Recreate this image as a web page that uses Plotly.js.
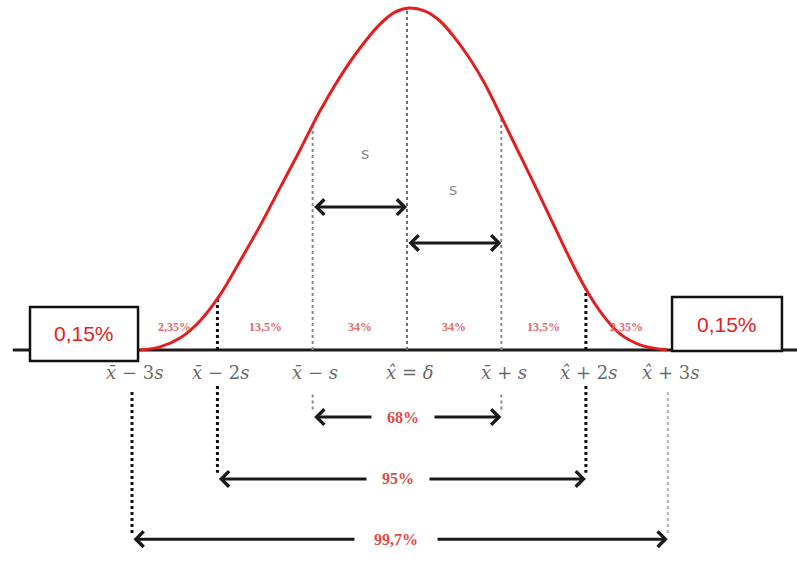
<!DOCTYPE html>
<html>
<head>
<meta charset="utf-8">
<script src="https://cdn.plot.ly/plotly-3.0.1.min.js"></script>
<style>html,body{margin:0;padding:0;background:#fff;}#chart{width:797px;height:580px;}</style>
</head>
<body>
<div id="chart"></div>
<script>
// ---- data (x in units of s from the mean, y = relative height) ----
const curveX = [-3.000,-2.775,-2.551,-2.326,-2.101,-1.876,-1.652,-1.427,-1.202,-0.978,-0.753,-0.528,-0.303,-0.135,0.022,0.202,0.371,0.539,0.708,0.876,1.067,1.270,1.494,1.719,1.888,2.056,2.225,2.393,2.618,2.921];
const curveY = [0.000,0.009,0.035,0.085,0.161,0.260,0.363,0.474,0.585,0.699,0.798,0.883,0.953,0.988,1.000,0.991,0.962,0.912,0.851,0.778,0.678,0.570,0.450,0.327,0.237,0.158,0.094,0.047,0.015,0.000];
const markPos = [-3.09,-2.13,-1.06,0,1.06,2.01,2.93];
const markLabels = ['<i>x̄</i> − 3<i>s</i>','<i>x̄</i> − 2<i>s</i>','<i>x̄</i> − <i>s</i>','<i>x̂</i> = <i>δ</i>','<i>x̄</i> + <i>s</i>','<i>x̂</i> + 2<i>s</i>','<i>x̂</i> + 3<i>s</i>'];
const bandLabels = ['2,35%','13,5%','34%','34%','13,5%','2,35%'];
const tailLabels = ['0,15%','0,15%'];
const spanLabels = ['68%','95%','99,7%'];
const spanPairs = [[2,4],[1,5],[0,6]];
const sLabels = ['s','s'];

function curveAt(x){
  for(let i=0;i<curveX.length-1;i++){
    if(x>=curveX[i] && x<=curveX[i+1]){
      const t=(x-curveX[i])/(curveX[i+1]-curveX[i]);
      return curveY[i]+t*(curveY[i+1]-curveY[i]);
    }
  }
  return 0;
}

const shapes = [];
const annotations = [];

// baseline
shapes.push({type:'line',xref:'x',yref:'y',x0:-4.43,x1:4.40,y0:0,y1:0,layer:'below',line:{color:'#1c1c1c',width:3}});

// dotted verticals above baseline (curve to baseline)
const upStyle = {1:{color:'#111',width:3},2:{color:'#8a8a8a',width:2},3:{color:'#6e6e6e',width:2},4:{color:'#8a8a8a',width:2},5:{color:'#111',width:3}};
[1,2,3,4,5].forEach(i=>{
  shapes.push({type:'line',xref:'x',yref:'y',x0:markPos[i],x1:markPos[i],y0:0,y1:curveAt(markPos[i]),layer:'below',line:Object.assign({dash:'dot'},upStyle[i])});
});

// span arrows below baseline
const spanLevels = [-0.196,-0.377,-0.553];
const spanTops = [-0.130,-0.105,-0.123];
const spanLine = [
  [{color:'#8a8a8a',width:2},{color:'#8a8a8a',width:2}],
  [{color:'#111',width:3},{color:'#111',width:3}],
  [{color:'#111',width:3},{color:'#b0b0b0',width:2}]
];
const gapWidth = [60,60,80];
spanPairs.forEach((p,k)=>{
  p.forEach((idx,side)=>{
    shapes.push({type:'line',xref:'x',yref:'y',x0:markPos[idx],x1:markPos[idx],y0:spanTops[k],y1:spanLevels[k]+0.018,layer:'below',line:Object.assign({dash:'dot'},spanLine[k][side])});
  });
  annotations.push({xref:'x',yref:'y',axref:'x',ayref:'y',x:markPos[p[1]],y:spanLevels[k],ax:markPos[p[0]],ay:spanLevels[k],
    text:'',showarrow:true,arrowhead:4,arrowside:'end+start',arrowsize:1,arrowwidth:3,arrowcolor:'#1a1a1a',standoff:0,startstandoff:0});
});
spanPairs.forEach((p,k)=>{
  annotations.push({xref:'x',yref:'y',x:(markPos[p[0]]+markPos[p[1]])/2-0.04,y:spanLevels[k],text:'<b>'+spanLabels[k]+'</b>',showarrow:false,
    bgcolor:'#ffffff',width:gapWidth[k],font:{family:'Liberation Serif',size:16,color:'#e14a4a'}});
});

// s arrows inside the curve
const sLevels = [0.418,0.313];
[[2,3],[3,4]].forEach((p,k)=>{
  annotations.push({xref:'x',yref:'y',axref:'x',ayref:'y',x:markPos[p[1]],y:sLevels[k],ax:markPos[p[0]],ay:sLevels[k],
    text:'',showarrow:true,arrowhead:4,arrowside:'end+start',arrowsize:1,arrowwidth:3,arrowcolor:'#1a1a1a',standoff:0,startstandoff:0});
});
annotations.push({xref:'x',yref:'y',x:-0.47,y:0.576,text:sLabels[0],showarrow:false,font:{family:'DejaVu Sans',size:16,color:'#8c8c8c'}});
annotations.push({xref:'x',yref:'y',x:0.52,y:0.468,text:sLabels[1],showarrow:false,font:{family:'DejaVu Sans',size:16,color:'#8c8c8c'}});

// band labels
bandLabels.forEach((t,i)=>{
  annotations.push({xref:'x',yref:'y',x:(markPos[i]+markPos[i+1])/2,y:0.067,text:'<b>'+t+'</b>',showarrow:false,
    font:{family:'Liberation Serif',size:12,color:'#e36a6a'}});
});

// mark labels on the axis
markLabels.forEach((t,i)=>{
  annotations.push({xref:'x',yref:'y',x:markPos[i]+0.03,y:-0.066,text:t,showarrow:false,
    font:{family:'DejaVu Serif',size:18,color:'#6a6a6a'}});
});

// tail boxes
const boxes = [[-4.236,-3.022,-0.032,0.126],[2.978,4.213,-0.003,0.155]];
boxes.forEach((b,i)=>{
  shapes.push({type:'rect',xref:'x',yref:'y',x0:b[0],x1:b[1],y0:b[2],y1:b[3],layer:'above',fillcolor:'#ffffff',line:{color:'#111',width:2.5}});
  annotations.push({xref:'x',yref:'y',x:(b[0]+b[1])/2,y:(b[2]+b[3])/2,text:tailLabels[i],showarrow:false,
    font:{family:'Liberation Sans',size:21,color:'#e32222'}});
});

const trace = {x:curveX,y:curveY,mode:'lines',line:{color:'#e41e1e',width:3,shape:'spline',smoothing:1},hoverinfo:'skip'};

Plotly.newPlot('chart',[trace],{
  width:797,height:580,margin:{l:0,r:0,t:0,b:0},
  paper_bgcolor:'#ffffff',plot_bgcolor:'#ffffff',showlegend:false,
  xaxis:{range:[-4.573,4.382],visible:false,fixedrange:true},
  yaxis:{range:[-0.6725,1.0234],visible:false,fixedrange:true},
  shapes:shapes,annotations:annotations
},{staticPlot:true});
</script>
</body>
</html>
